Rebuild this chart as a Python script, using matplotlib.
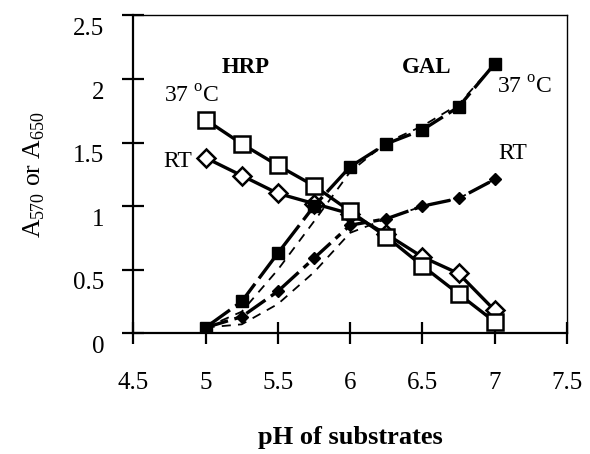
import numpy as np
import matplotlib
matplotlib.use("Agg")
import matplotlib.pyplot as plt
import matplotlib.transforms as mtransforms

plt.rcParams['font.family'] = ['Liberation Serif', 'DejaVu Serif']
plt.rcParams['mathtext.fontset'] = 'custom'
plt.rcParams['mathtext.rm'] = 'Liberation Serif'

# pH values
ph = [5.0, 5.25, 5.5, 5.75, 6.0, 6.25, 6.5, 6.75, 7.0]

# HRP (A650)
hrp_37 = [1.68, 1.49, 1.32, 1.16, 0.96, 0.76, 0.53, 0.31, 0.09]
hrp_rt = [1.38, 1.24, 1.10, 1.02, 0.94, 0.78, 0.60, 0.47, 0.18]

# GAL (A570)
gal_37 = [0.045, 0.25, 0.63, 1.00, 1.31, 1.49, 1.60, 1.78, 2.12]
gal_rt = [0.045, 0.13, 0.33, 0.59, 0.85, 0.90, 1.00, 1.06, 1.21]

# second GAL readings (dashed, no markers)
gal_37_b = [0.045, 0.17, 0.50, 0.88, 1.27, 1.50, 1.63, 1.80, 2.12]
gal_rt_b = [0.045, 0.07, 0.23, 0.48, 0.79, 0.90, 1.00, 1.06, 1.21]

fig = plt.figure(figsize=(5.9, 4.54), dpi=100)
ax = fig.add_axes([0.226, 0.266, 0.735, 0.7])

ax.plot(ph, gal_37_b, color='black', lw=1.3, ls=(0, (5, 4)))
ax.plot(ph, gal_rt_b, color='black', lw=1.3, ls=(0, (5, 4)))

ax.plot(ph, hrp_rt, color='black', lw=2.4, marker='D', ms=9,
        mfc='white', mec='black', mew=1.8)
ax.plot(ph, hrp_37, color='black', lw=2.4, marker='s', ms=12,
        mfc='white', mec='black', mew=1.8)
ax.plot(ph, gal_rt, color='black', lw=2.4, ls=(0, (7, 2, 2, 2)), marker='D',
        ms=6.5, mfc='black', mec='black')
ax.plot(ph, gal_37, color='black', lw=2.4, ls=(0, (9, 2)), marker='s',
        ms=8.5, mfc='black', mec='black')

ax.set_xlim(4.5, 7.5)
ax.set_ylim(0, 2.5)
ax.set_xticks([4.5, 5, 5.5, 6, 6.5, 7, 7.5])
ax.set_xticklabels(['4.5', '5', '5.5', '6', '6.5', '7', '7.5'])
ax.set_yticks([0, 0.5, 1, 1.5, 2, 2.5])
ax.set_yticklabels(['0', '0.5', '1', '1.5', '2', '2.5'])
ax.tick_params(direction='inout', length=16, width=1.6, labelsize=18)
ax.tick_params(axis='x', pad=20)
ax.tick_params(axis='y', pad=13)
for side in ['left', 'bottom']:
    ax.spines[side].set_linewidth(1.6)
for side in ['top', 'right']:
    ax.spines[side].set_linewidth(1.0)

# y tick labels sit a little below their ticks in the original
offset = mtransforms.ScaledTranslation(0, -8 / 72, fig.dpi_scale_trans)
for lab in ax.get_yticklabels():
    lab.set_transform(lab.get_transform() + offset)

ax.set_xlabel('pH of substrates', fontsize=19, fontweight='bold', labelpad=23)
ax.set_ylabel('A$_{570}$ or A$_{650}$', fontsize=18.5, labelpad=19)

ax.text(5.28, 2.09, 'HRP', fontsize=16.5, fontweight='bold', ha='center', va='center')
ax.text(6.53, 2.09, 'GAL', fontsize=16.5, fontweight='bold', ha='center', va='center')
ax.text(4.90, 1.86, '37 $^{\\rm o}$C', fontsize=17, ha='center', va='center')
ax.text(4.81, 1.35, 'RT', fontsize=17, ha='center', va='center')
ax.text(7.21, 1.93, '37 $^{\\rm o}$C', fontsize=17, ha='center', va='center')
ax.text(7.125, 1.415, 'RT', fontsize=17, ha='center', va='center')

fig.savefig('out.png', dpi=100)
